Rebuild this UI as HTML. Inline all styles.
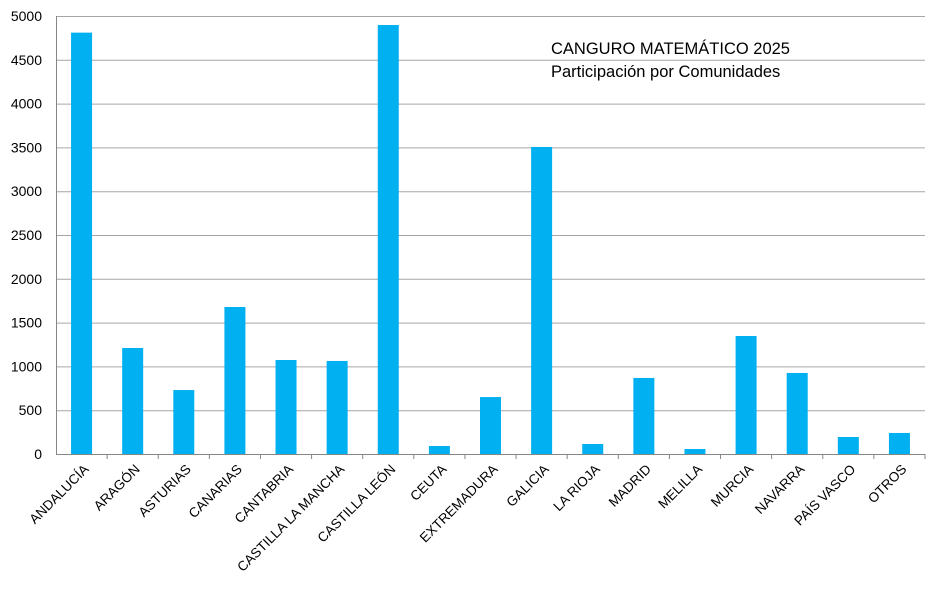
<!DOCTYPE html>
<html><head><meta charset="utf-8"><style>
body{margin:0;background:#fff;}
svg text{font-family:"Liberation Sans",sans-serif;}
</style></head><body>
<svg id="chart" width="933" height="588">
<g id="grid"></g><g id="bars"></g><g id="ylabels"></g><g id="xlabels"></g>
<text x="551" y="54" font-size="16.5" fill="#000">CANGURO MATEMÁTICO 2025</text>
<text x="551" y="77" font-size="16.5" fill="#000">Participación por Comunidades</text>
</svg>
<script>
const categories=["ANDALUCÍA","ARAGÓN","ASTURIAS","CANARIAS","CANTABRIA","CASTILLA LA MANCHA","CASTILLA LEÓN","CEUTA","EXTREMADURA","GALICIA","LA RIOJA","MADRID","MELILLA","MURCIA","NAVARRA","PAÍS VASCO","OTROS"];
const values=[4810,1210,730,1678,1073,1062,4897,91,650,3505,114,868,57,1347,925,194,240];
const yTicks=[0,500,1000,1500,2000,2500,3000,3500,4000,4500,5000];
const NS="http://www.w3.org/2000/svg";
const L=56,R=925,T=16,B=454,YMAX=5000;
const y=v=>B-(v/YMAX)*(B-T);
const bw=(R-L)/categories.length;
const x=i=>L+bw*(i+0.5);
function mk(t,a,p){const e=document.createElementNS(NS,t);for(const k in a)e.setAttribute(k,a[k]);p.appendChild(e);return e;}
const g=document.getElementById('grid'),yl=document.getElementById('ylabels'),bg=document.getElementById('bars'),xl=document.getElementById('xlabels');
yTicks.forEach(v=>{
 const ln=mk('line',{x1:L,x2:R,y1:y(v)+0.5,y2:y(v)+0.5,stroke:v===0?'#868686':'#a6a6a6','stroke-width':1},g);
 
 
 const t=mk('text',{x:42,y:y(v)+5,'text-anchor':'end','font-size':14,fill:'#000'},yl);
 t.textContent=v;
 
 
});
const ax=mk('line',{x1:L+0.5,x2:L+0.5,y1:T,y2:B,stroke:'#868686'},g);


categories.forEach((c,i)=>{
 const r=mk('rect',{x:x(i)-10.5,y:y(values[i]),width:21,height:B-y(values[i]),fill:'#00b0f0'},bg);
 
 
 const tk=mk('line',{x1:L+bw*(i+1),x2:L+bw*(i+1),y1:B,y2:B+5,stroke:'#868686'},g);
 
 
 const t=mk('text',{x:x(i)+8,y:B+16,'text-anchor':'end','font-size':13.5,fill:'#000',transform:`rotate(-45 ${x(i)+8} ${B+16})`},xl);
 t.textContent=c;
 
 
});
</script>
</body></html>
